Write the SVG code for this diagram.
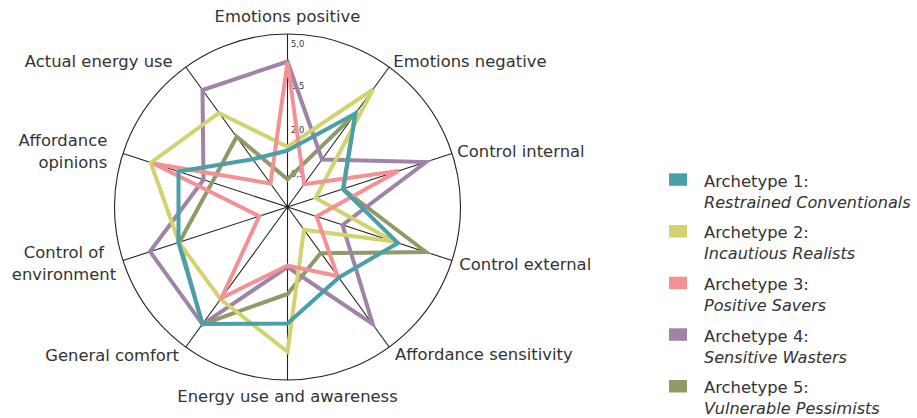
<svg xmlns="http://www.w3.org/2000/svg" width="917" height="418" viewBox="0 0 917 418">
<style>
.lbl{font-family:"DejaVu Sans","Liberation Sans",sans-serif;font-size:16.4px;fill:#333}
.it{font-style:italic;font-size:16.1px}
.tick{font-family:"DejaVu Sans","Liberation Sans",sans-serif;font-size:8.4px;fill:#333}
.axis{stroke:#222;stroke-width:1.1;fill:none}
.s{fill:none;stroke-width:4;stroke-linejoin:miter}
.a1{stroke:#4aa0a8}.a2{stroke:#d2d26e}.a3{stroke:#f49194}.a4{stroke:#a083a6}.a5{stroke:#8e9b69}
</style>
<rect width="917" height="418" fill="#fff"/>
<g id="grid">
<circle class="axis" cx="287.5" cy="207" r="173"/>
<path class="axis" d="M287.5 207V34M287.5 207L389.2 67M287.5 207L452 153.5M287.5 207L452 260.5M287.5 207L389.2 347M287.5 207V380M287.5 207L185.8 347M287.5 207L123 260.5M287.5 207L123 153.5M287.5 207L185.8 67"/>
<text class="tick" x="291" y="46.7">5,0</text>
<text class="tick" x="291" y="89">3,5</text>
<text class="tick" x="291" y="133.3">2,0</text>
<text class="tick" x="291" y="176.7">0,5</text>
</g>
<g id="series">
<polygon id="archetype5" class="s a5" points="287.5,179.3 355,114 343,189 426,252 320.5,253.3 287.5,294 202.5,324.3 179.5,242 211.6,183.3 236.7,136.7"/>
<polygon id="archetype4" class="s a4" points="287.5,61.5 322,159.5 426,162 342.5,225 372.7,324 287.5,267 202.5,324.3 150,251.5 203.5,179.8 202.5,90"/>
<polygon id="archetype2" class="s a2" points="287.5,146.7 373,89.5 315.5,197.9 394,241.5 304,229.7 287.5,351.7 220.5,299.2 179,242.5 150.7,162.7 219,113"/>
<polygon id="archetype3" class="s a3" points="287.5,62 304,184.2 398.3,171 316.5,216.5 337.5,276 287.5,265.5 221.5,298 259.3,216.2 153.3,163.5 270.5,183.5"/>
<polygon id="archetype1" class="s a1" points="287.5,150.5 355.5,113.5 343.3,189.5 398,243 339,277.5 287.5,323.5 202.5,324 178.5,242.5 178.5,171.5 252.8,159.2"/>
</g>
<g id="labels">
<text class="lbl" x="287.5" y="21.7" text-anchor="middle">Emotions positive</text>
<text class="lbl" x="393.3" y="66.7">Emotions negative</text>
<text class="lbl" x="457.3" y="156.7">Control internal</text>
<text class="lbl" x="459.3" y="270">Control external</text>
<text class="lbl" x="395" y="360">Affordance sensitivity</text>
<text class="lbl" x="287.5" y="401.7" text-anchor="middle">Energy use and awareness</text>
<text class="lbl" x="179" y="360.7" text-anchor="end">General comfort</text>
<text class="lbl" x="64" y="258.3" text-anchor="middle">Control of</text>
<text class="lbl" x="64" y="280" text-anchor="middle">environment</text>
<text class="lbl" x="107.3" y="146" text-anchor="end">Affordance</text>
<text class="lbl" x="107.3" y="168.3" text-anchor="end">opinions</text>
<text class="lbl" x="172.7" y="66.7" text-anchor="end">Actual energy use</text>
</g>
<g id="legend">
<g id="leg1"><rect x="669" y="173.3" width="18" height="12.5" fill="#4aa0a8"/><text class="lbl" x="704" y="186.7">Archetype 1:</text><text class="lbl it" x="704" y="207.7">Restrained Conventionals</text></g>
<g id="leg2"><rect x="669" y="225" width="18" height="12.5" fill="#d2d26e"/><text class="lbl" x="704" y="238.3">Archetype 2:</text><text class="lbl it" x="704" y="259.3">Incautious Realists</text></g>
<g id="leg3"><rect x="669" y="276.7" width="18" height="12.5" fill="#f49194"/><text class="lbl" x="704" y="290">Archetype 3:</text><text class="lbl it" x="704" y="311">Positive Savers</text></g>
<g id="leg4"><rect x="669" y="328.3" width="18" height="12.5" fill="#a083a6"/><text class="lbl" x="704" y="341.7">Archetype 4:</text><text class="lbl it" x="704" y="362.7">Sensitive Wasters</text></g>
<g id="leg5"><rect x="669" y="380" width="18" height="12.5" fill="#8e9b69"/><text class="lbl" x="704" y="393.3">Archetype 5:</text><text class="lbl it" x="704" y="414">Vulnerable Pessimists</text></g>
</g>
</svg>
